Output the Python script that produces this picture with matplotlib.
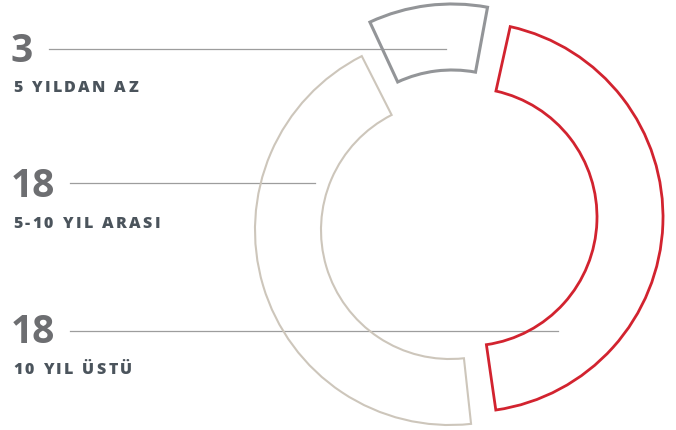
"""Donut of years of experience, segments drawn as outlines."""

import matplotlib.pyplot as plt
import numpy as np
from matplotlib.font_manager import FontProperties
from matplotlib.patches import Wedge
from matplotlib.textpath import TextToPath

labels = ["5 YILDAN AZ", "5-10 YIL ARASI", "10 YIL ÜSTÜ"]
values = np.array([3, 18, 18])
colors = ["#939598", "#cdc6bb", "#d2232f"]
line_widths = [2.2, 1.5, 2.0]

W, H = 676, 430
center = np.array([458.0, H - 215.0])
offsets = [(-6, 16), (-8, -15), (10, -2)]  # per slice explode, y up
r_outer, ring = 195, 66
start_angle = 79.5
pad = 2.0  # degrees between slices
min_share = 0.1  # small slices are drawn a bit larger

shares = values / values.sum()
small = shares < min_share
shares = np.where(small, min_share, shares * (1 - min_share * small.sum()) / shares[~small].sum())
spans = shares * (360 - pad * len(values))
starts = start_angle + np.concatenate([[0], np.cumsum(spans + pad)[:-1]])

# text rows: number baseline, label baseline, leader line y and its x end
num_y = [62, 197, 343]
lab_y = [92, 228, 374]
lead_y = [49, 183, 331]
lead_x = [(49, 446), (70, 315), (70, 558)]

fig = plt.figure(figsize=(W / 100, H / 100), dpi=100)
ax = fig.add_axes([0, 0, 1, 1])
ax.set_xlim(0, W)
ax.set_ylim(0, H)
ax.set_aspect("equal")
ax.axis("off")

label_font = FontProperties(family="Open Sans", weight="heavy", size=11.5)
t2p = TextToPath()


def spaced_text(x, y, s, tracking=2.4, **kw):
    # matplotlib has no letter spacing, so place the letters one by one
    for i, ch in enumerate(s):
        w = t2p.get_text_width_height_descent(s[:i], label_font, ismath=False)[0] if i else 0
        ax.text(x + w * 100 / 72 + i * tracking, y, ch, fontproperties=label_font,
                va="baseline", ha="left", **kw)


for i, value in enumerate(values):
    c = center + np.array(offsets[i])
    ax.add_patch(
        Wedge(
            c, r_outer, starts[i], starts[i] + spans[i], width=ring,
            facecolor="none", edgecolor=colors[i], lw=line_widths[i],
            joinstyle="miter",
        )
    )
    ax.plot(lead_x[i], [H - lead_y[i]] * 2, color="#9d9d9d", lw=0.9, zorder=0)
    ax.text(11, H - num_y[i], str(value), fontsize=28, fontweight="bold",
            family="Open Sans", color="#6d6e71", va="baseline", ha="left")
    spaced_text(13, H - lab_y[i], labels[i], color="#4b545c")

fig.savefig("out.png", dpi=100)
